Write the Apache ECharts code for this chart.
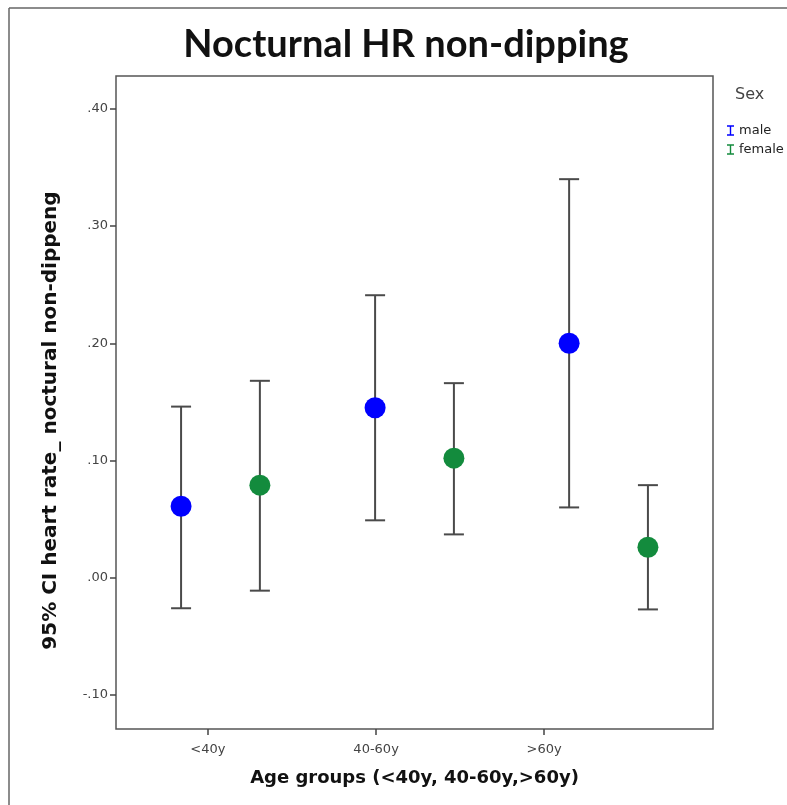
<!DOCTYPE html>
<html>
<head>
<meta charset="utf-8">
<script src="https://cdn.jsdelivr.net/npm/echarts@6/dist/echarts.min.js"></script>
<style>
  html, body { margin: 0; padding: 0; background: #fff; }
  #main { width: 787px; height: 805px; }
</style>
</head>
<body>
<div id="main"></div>
<script>
// data
const categories = ["<40y", "40-60y", ">60y"];
const maleMean = [0.061, 0.145, 0.200];
const maleLow = [-0.026, 0.049, 0.060];
const maleHigh = [0.146, 0.241, 0.340];
const femaleMean = [0.079, 0.102, 0.026];
const femaleLow = [-0.011, 0.037, -0.027];
const femaleHigh = [0.168, 0.166, 0.079];
const yTicks = [-0.1, 0, 0.1, 0.2, 0.3, 0.4];

// layout of the SPSS style clusters (x axis runs 0..3)
const clusterCenter = (i) => 0.525 + i * 0.975;
const clusterOffset = 0.198;
const labelPos = [0.462, 1.307, 2.151];

function rows(mean, low, high, side) {
    return mean.map((m, i) => [clusterCenter(i) + side * clusterOffset, low[i], high[i], m]);
}

function renderBar(params, api) {
    let x = api.value(0);
    let hi = api.coord([x, api.value(2)]);
    let lo = api.coord([x, api.value(1)]);
    let mid = api.coord([x, api.value(3)]);
    let line = { stroke: "#4a4a4a", lineWidth: 2 };
    return {
        type: "group",
        children: [
            { type: "line", shape: { x1: hi[0], y1: hi[1], x2: lo[0], y2: lo[1] }, style: line },
            { type: "line", shape: { x1: hi[0] - 10, y1: hi[1], x2: hi[0] + 10, y2: hi[1] }, style: line },
            { type: "line", shape: { x1: lo[0] - 10, y1: lo[1], x2: lo[0] + 10, y2: lo[1] }, style: line },
            { type: "circle", shape: { cx: mid[0], cy: mid[1], r: 10.5 }, style: { fill: api.visual("color") } },
        ],
    };
}

let dom = document.getElementById("main");
let myChart = echarts.init(dom, null, { renderer: "canvas" });

const iconI = "path://M0,0H8V1.6H4.8V10.4H8V12H0V10.4H3.2V1.6H0Z";
const font = "DejaVu Sans";

let option = {
    animation: false,
    title: {
        text: "Nocturnal HR non-dipping",
        left: 401,
        top: 21,
        textAlign: "center",
        textStyle: { fontFamily: "Lato", fontWeight: "bold", fontSize: 38, color: "#111" },
    },
    legend: {
        orient: "vertical",
        left: 722,
        top: 119,
        itemWidth: 7,
        itemHeight: 11,
        itemGap: 6,
        selectedMode: false,
        textStyle: { fontFamily: font, fontSize: 13, color: "#222" },
        data: [
            { name: "male", icon: iconI },
            { name: "female", icon: iconI },
        ],
    },
    graphic: [
        { type: "text", left: 735, top: 87, style: { text: "Sex", fontFamily: font, fontSize: 16, fill: "#444" } },
        { type: "line", shape: { x1: 9, y1: 8, x2: 787, y2: 8 }, style: { stroke: "#666", lineWidth: 1.5 } },
        { type: "line", shape: { x1: 9, y1: 8, x2: 9, y2: 805 }, style: { stroke: "#666", lineWidth: 1.5 } },
    ],
    grid: {
        left: 116,
        top: 76,
        right: 74,
        bottom: 76,
        show: true,
        borderColor: "#555",
        borderWidth: 1.5,
        backgroundColor: "#fff",
    },
    xAxis: {
        type: "value",
        min: 0,
        max: 3,
        name: "Age groups (<40y, 40-60y,>60y)",
        nameLocation: "middle",
        nameGap: 40,
        nameTextStyle: { fontFamily: font, fontWeight: "bold", fontSize: 18, color: "#111" },
        axisLine: { show: false, onZero: false },
        splitLine: { show: false },
        axisTick: { customValues: labelPos, length: 6, lineStyle: { color: "#444", width: 1.5 } },
        axisLabel: {
            customValues: labelPos,
            margin: 14,
            fontFamily: font,
            fontSize: 13,
            color: "#444",
            formatter: (v) => {
                let best = 0;
                labelPos.forEach((p, i) => {
                    if (Math.abs(p - v) < Math.abs(labelPos[best] - v)) best = i;
                });
                return categories[best];
            },
        },
    },
    yAxis: {
        type: "value",
        min: -0.129,
        max: 0.428,
        name: "95% CI heart rate_ noctural non-dippeng",
        nameLocation: "middle",
        nameGap: 55,
        nameTextStyle: {
            fontFamily: font,
            fontWeight: "bold",
            fontSize: 20,
            color: "#111",
            padding: [0, 36, 0, 0],
        },
        axisLine: { show: false, onZero: false },
        splitLine: { show: false },
        axisTick: { customValues: yTicks, length: 6, lineStyle: { color: "#444", width: 1.5 } },
        axisLabel: {
            customValues: yTicks,
            margin: 8,
            fontFamily: font,
            fontSize: 13,
            color: "#444",
            formatter: (v) => v.toFixed(2).replace("0.", "."),
        },
    },
    series: [
        {
            name: "male",
            type: "custom",
            color: "#0000ff",
            renderItem: renderBar,
            encode: { x: 0, y: [1, 2, 3] },
            data: rows(maleMean, maleLow, maleHigh, -1),
        },
        {
            name: "female",
            type: "custom",
            color: "#138b3d",
            renderItem: renderBar,
            encode: { x: 0, y: [1, 2, 3] },
            data: rows(femaleMean, femaleLow, femaleHigh, 1),
        },
    ],
};

myChart.setOption(option);
window.addEventListener("resize", myChart.resize);
</script>
</body>
</html>
